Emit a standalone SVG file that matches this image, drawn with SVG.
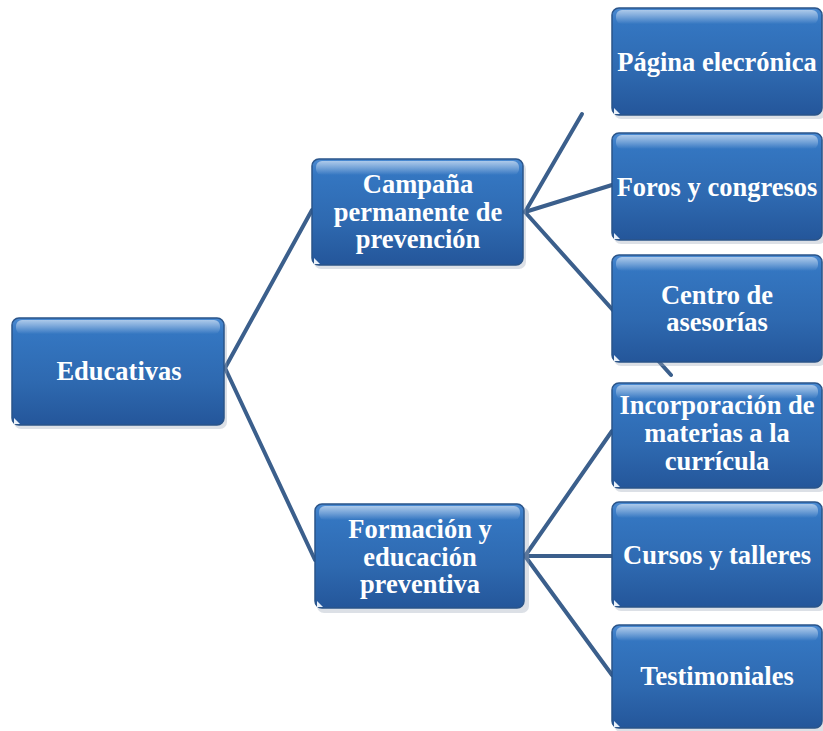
<svg xmlns="http://www.w3.org/2000/svg" width="823" height="731" viewBox="0 0 823 731">
<style>
.box{fill:url(#g);stroke:#2a5489;stroke-width:1.5}
.gloss{fill:url(#h)}
.shadow{fill:#9aa6b6;opacity:0.35}
.tri{fill:#e8f0fa}
.t{font-family:"Liberation Serif","Times New Roman",serif;font-weight:bold;font-size:26.5px;fill:#ffffff;text-anchor:middle}
.c{stroke:#3b5f8c;stroke-width:4;fill:none;stroke-linecap:round}
</style>
<defs>
<linearGradient id="g" x1="0" y1="0" x2="0" y2="1">
<stop offset="0" stop-color="#4a8ad2"/>
<stop offset="0.15" stop-color="#3476c1"/>
<stop offset="0.6" stop-color="#2e69b0"/>
<stop offset="1" stop-color="#24569a"/>
</linearGradient>
<linearGradient id="h" x1="0" y1="0" x2="0" y2="1">
<stop offset="0" stop-color="#ffffff" stop-opacity="0.55"/>
<stop offset="1" stop-color="#ffffff" stop-opacity="0"/>
</linearGradient>
</defs>
<g id="connectors">
<line class="c" x1="225" y1="368" x2="312" y2="210"/>
<line class="c" x1="225" y1="368" x2="315" y2="560"/>
<line class="c" x1="525" y1="212" x2="582" y2="114"/>
<line class="c" x1="525" y1="212" x2="612" y2="185"/>
<line class="c" x1="525" y1="212" x2="671" y2="375"/>
<line class="c" x1="525" y1="556" x2="612" y2="431"/>
<line class="c" x1="525" y1="556" x2="612" y2="556"/>
<line class="c" x1="525" y1="556" x2="612" y2="675"/>
</g>
<g id="n-educativas">
<rect class="shadow" x="14" y="321" width="213" height="108" rx="7"/>
<rect class="box" x="12" y="318" width="212" height="107" rx="7"/>
<rect class="gloss" x="16" y="320" width="204" height="14" rx="6"/>
<path class="tri" d="M14 424 L14 418 L20 424 Z"/>
<text class="t" x="119" y="380">Educativas</text>
</g>
<g id="n-campana">
<rect class="shadow" x="314" y="162" width="212" height="107" rx="7"/>
<rect class="box" x="312" y="159" width="211" height="106" rx="7"/>
<rect class="gloss" x="316" y="161" width="203" height="14" rx="6"/>
<path class="tri" d="M314 264 L314 258 L320 264 Z"/>
<text class="t" x="418" y="193">Campaña</text>
<text class="t" x="418" y="221">permanente de</text>
<text class="t" x="418" y="248">prevención</text>
</g>
<g id="n-formacion">
<rect class="shadow" x="317" y="507" width="212" height="106" rx="7"/>
<rect class="box" x="315" y="504" width="209" height="104" rx="7"/>
<rect class="gloss" x="319" y="506" width="201" height="14" rx="6"/>
<path class="tri" d="M317 607 L317 601 L323 607 Z"/>
<text class="t" x="420" y="538">Formación y</text>
<text class="t" x="420" y="566">educación</text>
<text class="t" x="420" y="593">preventiva</text>
</g>
<g id="n-pagina">
<rect class="shadow" x="614" y="11" width="212" height="108" rx="7"/>
<rect class="box" x="612" y="8" width="210" height="107" rx="7"/>
<rect class="gloss" x="616" y="10" width="202" height="14" rx="6"/>
<path class="tri" d="M614 114 L614 108 L620 114 Z"/>
<text class="t" x="717" y="71">Página elecrónica</text>
</g>
<g id="n-foros">
<rect class="shadow" x="614" y="136" width="212" height="108" rx="7"/>
<rect class="box" x="612" y="133" width="210" height="107" rx="7"/>
<rect class="gloss" x="616" y="135" width="202" height="14" rx="6"/>
<path class="tri" d="M614 239 L614 233 L620 239 Z"/>
<text class="t" x="717" y="196">Foros y congresos</text>
</g>
<g id="n-centro">
<rect class="shadow" x="614" y="258" width="212" height="108" rx="7"/>
<rect class="box" x="612" y="255" width="210" height="107" rx="7"/>
<rect class="gloss" x="616" y="257" width="202" height="14" rx="6"/>
<path class="tri" d="M614 361 L614 355 L620 361 Z"/>
<text class="t" x="717" y="304">Centro de</text>
<text class="t" x="717" y="331">asesorías</text>
</g>
<g id="n-incorporacion">
<rect class="shadow" x="614" y="386" width="212" height="106" rx="7"/>
<rect class="box" x="612" y="383" width="210" height="105" rx="7"/>
<rect class="gloss" x="616" y="385" width="202" height="14" rx="6"/>
<path class="tri" d="M614 487 L614 481 L620 487 Z"/>
<text class="t" x="717" y="414">Incorporación de</text>
<text class="t" x="717" y="442">materias a la</text>
<text class="t" x="717" y="470">currícula</text>
</g>
<g id="n-cursos">
<rect class="shadow" x="614" y="505" width="212" height="106" rx="7"/>
<rect class="box" x="612" y="502" width="210" height="105" rx="7"/>
<rect class="gloss" x="616" y="504" width="202" height="14" rx="6"/>
<path class="tri" d="M614 606 L614 600 L620 606 Z"/>
<text class="t" x="717" y="564">Cursos y talleres</text>
</g>
<g id="n-testimoniales">
<rect class="shadow" x="614" y="628" width="212" height="104" rx="7"/>
<rect class="box" x="612" y="625" width="210" height="103" rx="7"/>
<rect class="gloss" x="616" y="627" width="202" height="14" rx="6"/>
<path class="tri" d="M614 727 L614 721 L620 727 Z"/>
<text class="t" x="717" y="685">Testimoniales</text>
</g>
</svg>
